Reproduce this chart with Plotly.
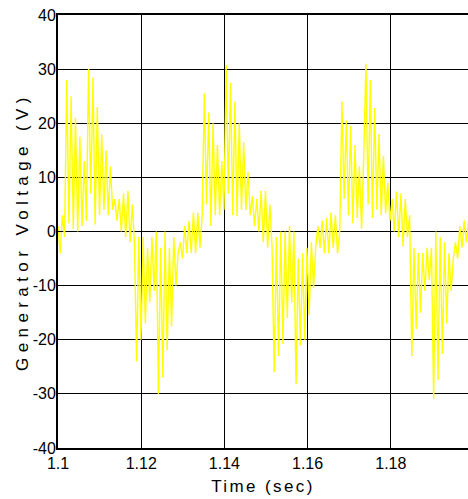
import plotly.graph_objects as go

# Sampled generator voltage (V), one sample every dt seconds starting at t_start
t_start = 1.1
dt = 0.000525
voltage = [
    # 1.1000 - positive half, period 1
    1, -4, 3, -1, 28, 1.5, 25, 0.5, 21, 0, 17.5, 1, 13, 2, 30, 7, 28.5, 1.3, 23, 3,
    18, 4, 15, 3, 12, 4, 6, 2, 6, 0, 7, -1, 7.5, -2, 5, -2,
    # negative half, period 1
    -24, -1, -20, -1, -17, -3, -13, -1, -11, 0, -30, -3, -27, 0, -22, -3, -17.5, -1, -10, -4,
    -2, -5, 1, -4, 2, -4, 3.5, -4, 3.5, -3, 3,
    # positive half, period 2
    25.5, 5, 22, 1, 20, 3, 16, 3, 13, 4, 30.7, 7, 27.5, 3, 24, 2.8, 20, 4, 16.5, 4,
    11, 3, 6.5, 1, 6, 0, 7.5, -2, 7.5, -3, 5, -3,
    # negative half, period 2
    -26, -1, -23, 0, -20.8, 0, -16, 1, -13, 0, -28.2, -5, -21, -4, -20, -3, -15.5, -2, -10.5, -3,
    1, -3, 2, -4, 2.5, -4, 3.5, -3, 3, -4, 0,
    # positive half, period 3
    24, 6, 20.5, 3, 19.5, 1.5, 16, 2.5, 12, 0.5, 14, 31, 5, 28, 2.5, 22.8, 4, 18, 3, 14,
    3.4, 9, 2, 6, 0, 7.4, -1, 7, -2.7, 6, -1, 3,
    # negative half, period 3
    -23, -3, -18, -4, -15, -4, -11, -3, -9, -3, -31, 0, -27.5, -1, -22.6, -2, -17, -4, -11, -5,
    -2, -5, 1, -3, 2, -2, 2, -3,
]
time = [t_start + k * dt for k in range(len(voltage))]

x_range = [1.1, 1.19856]
x_tickvals = [1.1, 1.12, 1.14, 1.16, 1.18]
x_ticktext = ["1.1", "1.12", "1.14", "1.16", "1.18"]
y_tickvals = [-40, -30, -20, -10, 0, 10, 20, 30, 40]
y_ticktext = ["-40", "-30", "-20", "-10", "0", "10", "20", "30", "40"]

x_title = "Time (sec)"
y_title = "Generator Voltage (V)"

font_family = "Arial, Liberation Sans, sans-serif"

fig = go.Figure()
fig.add_trace(go.Scatter(
    x=time, y=voltage, mode="lines",
    line=dict(color="#FFFF00", width=1.4),
    showlegend=False, hoverinfo="skip",
))

fig.update_layout(
    width=468, height=499,
    margin=dict(l=58, r=0, t=15, b=51),
    paper_bgcolor="white", plot_bgcolor="white",
    font=dict(family=font_family, size=16, color="black"),
)
fig.update_xaxes(
    range=x_range, tickvals=x_tickvals, ticktext=x_ticktext,
    automargin=False,
    showgrid=True, gridcolor="black", gridwidth=1,
    showline=True, linecolor="black", linewidth=2, mirror=True,
    ticks="inside", ticklen=5, tickcolor="black",
    zeroline=False,
    tickfont=dict(size=16, family=font_family, color="black"),
    title=dict(text='<span style="letter-spacing:2.4px">' + x_title + '</span>',
               font=dict(size=17, family=font_family, color="black"), standoff=9),
)
fig.update_yaxes(
    range=[-40, 40], tickvals=y_tickvals, ticktext=y_ticktext,
    automargin=False,
    showgrid=True, gridcolor="black", gridwidth=1,
    showline=True, linecolor="black", linewidth=2, mirror=False,
    ticks="inside", ticklen=5, tickcolor="black",
    ticklabelstandoff=-3,
    zeroline=False,
    tickfont=dict(size=16, family=font_family, color="black"),
    title=dict(text='<span style="letter-spacing:5.4px">' + y_title + '</span>',
               font=dict(size=17, family=font_family, color="black"), standoff=0),
)

fig.write_html("out.html",
               config={"displayModeBar": False},
               post_script="document.body.style.margin='0';document.body.style.overflow='hidden';")
